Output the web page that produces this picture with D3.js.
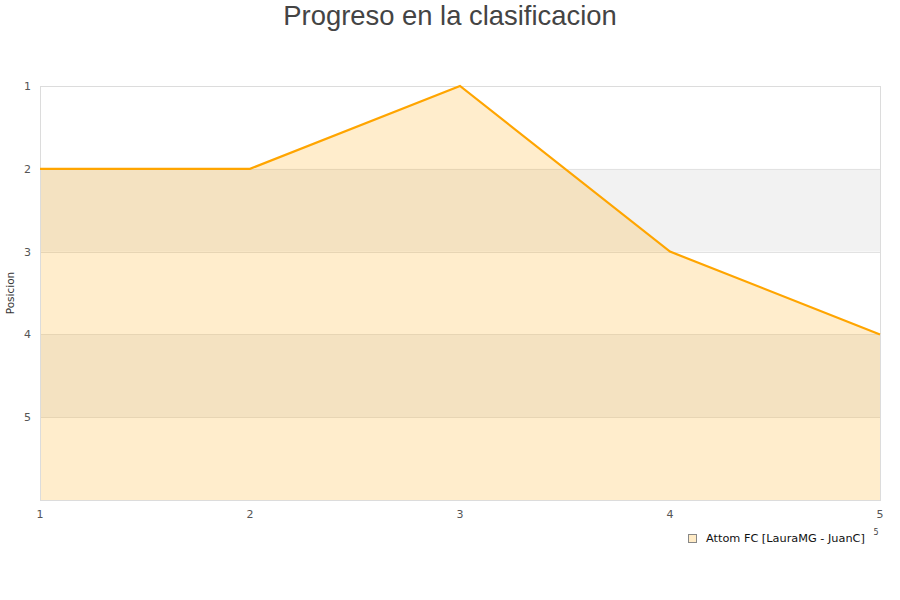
<!DOCTYPE html>
<html>
<head>
<meta charset="utf-8">
<script src="https://cdn.jsdelivr.net/npm/d3@7/dist/d3.min.js"></script>
<style>
  html, body { margin: 0; padding: 0; background: #fff; }
  svg { display: block; }
</style>
</head>
<body>
<svg id="chart" width="900" height="600"></svg>
<script>
const jornadas = [1, 2, 3, 4, 5];
const posiciones = [2, 2, 1, 3, 4];
const yTicks = [1, 2, 3, 4, 5];
const xTicks = [1, 2, 3, 4, 5];
const seriesName = "Attom FC [LauraMG - JuanC]";
const chartTitle = "Progreso en la clasificacion";
const yTitle = "Posicion";

const svg = d3.select("#chart");
const pLeft = 40, pRight = 880, pTop = 86, pBottom = 500;

const x = d3.scaleLinear().domain([1, 5]).range([pLeft, pRight]);
const y = d3.scaleLinear().domain([1, 6]).range([pTop, pBottom]);

// alternating bands
const bandStarts = [2, 4];
svg.selectAll("rect.band").data(bandStarts).enter().append("rect")
  .attr("class", "band")
  .attr("x", pLeft).attr("width", pRight - pLeft)
  .attr("y", d => y(d)).attr("height", d => y(d + 1) - y(d))
  .attr("fill", "#f2f2f2");

// gridlines
svg.selectAll("line.grid").data([2, 3, 4, 5]).enter().append("line")
  .attr("class", "grid")
  .attr("x1", pLeft).attr("x2", pRight)
  .attr("y1", d => Math.round(y(d)) + 0.5).attr("y2", d => Math.round(y(d)) + 0.5)
  .attr("stroke", "#e2e2e2").attr("stroke-width", 1);

// area
const area = d3.area()
  .x((d, i) => x(jornadas[i]))
  .y0(y(6))
  .y1(d => y(d));
svg.append("path")
  .datum(posiciones)
  .attr("d", area)
  .attr("fill", "#ffa500")
  .attr("fill-opacity", 0.2);

// plot border
svg.append("rect")
  .attr("x", pLeft + 0.5).attr("y", pTop + 0.5)
  .attr("width", pRight - pLeft).attr("height", pBottom - pTop)
  .attr("fill", "none").attr("stroke", "#dcdcdc");

// line
const line = d3.line()
  .x((d, i) => x(jornadas[i]))
  .y(d => y(d));
svg.append("path")
  .datum(posiciones)
  .attr("d", line)
  .attr("fill", "none")
  .attr("stroke", "#ffa500")
  .attr("stroke-width", 2.2)
  .attr("stroke-linejoin", "miter");

// y tick labels
svg.selectAll("text.ytick").data(yTicks).enter().append("text")
  .attr("class", "ytick")
  .attr("x", 31).attr("y", d => y(d) + 4)
  .attr("text-anchor", "end")
  .attr("font-family", "DejaVu Sans, sans-serif")
  .attr("font-size", 11)
  .attr("fill", "#555")
  .text(d => d);

// x tick labels
svg.selectAll("text.xtick").data(xTicks).enter().append("text")
  .attr("class", "xtick")
  .attr("x", d => x(d)).attr("y", 518)
  .attr("text-anchor", "middle")
  .attr("font-family", "DejaVu Sans, sans-serif")
  .attr("font-size", 11)
  .attr("fill", "#555")
  .text(d => d);

// y title
svg.append("text")
  .attr("transform", `translate(14, ${(pTop + pBottom) / 2}) rotate(-90)`)
  .attr("text-anchor", "middle")
  .attr("font-family", "DejaVu Sans, sans-serif")
  .attr("font-size", 10.5)
  .attr("fill", "#333")
  .text(yTitle);

// title
svg.append("text")
  .attr("x", 450).attr("y", 25)
  .attr("text-anchor", "middle")
  .attr("font-family", "Liberation Sans, Arial, sans-serif")
  .attr("font-size", 27.4)
  .attr("fill", "#444")
  .text(chartTitle);

// legend
svg.append("rect")
  .attr("x", 688.5).attr("y", 534.5)
  .attr("width", 8).attr("height", 8)
  .attr("fill", "#ffebc6").attr("stroke", "#888").attr("stroke-width", 1);
svg.append("text")
  .attr("x", 706).attr("y", 542)
  .attr("font-family", "DejaVu Sans, sans-serif")
  .attr("font-size", 11.3)
  .attr("fill", "#111")
  .text(seriesName);

// small clipped artifact
svg.append("text")
  .attr("x", 876).attr("y", 535)
  .attr("text-anchor", "middle")
  .attr("font-family", "DejaVu Sans, sans-serif")
  .attr("font-size", 8)
  .attr("fill", "#444")
  .text("5");
</script>
</body>
</html>
